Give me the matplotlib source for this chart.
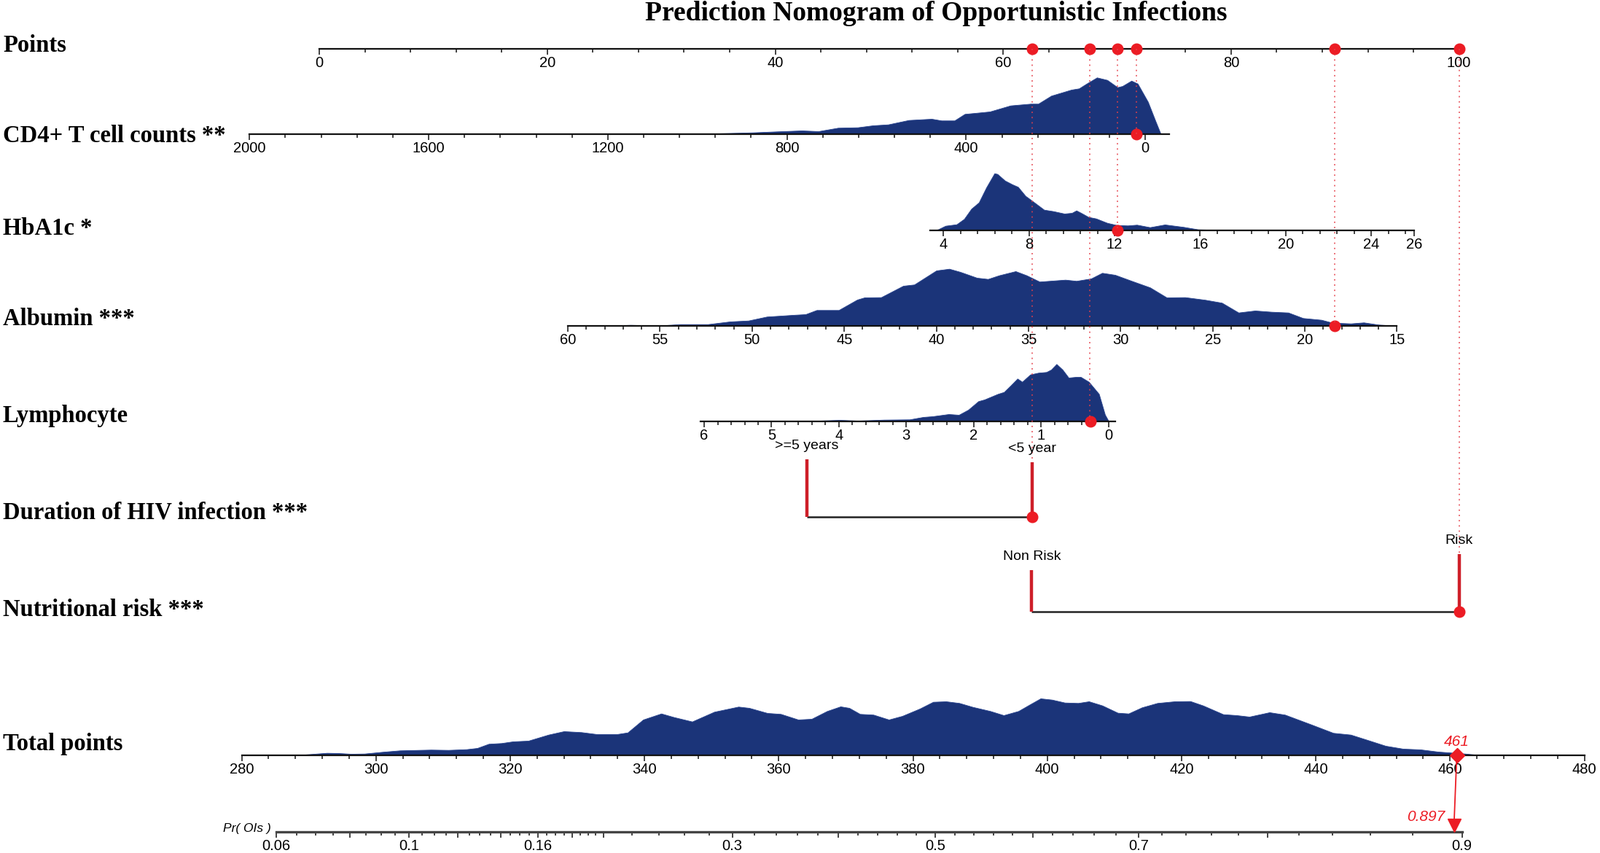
import numpy as np
import matplotlib
matplotlib.use('Agg')
import matplotlib.pyplot as plt
from matplotlib.patches import ConnectionPatch
from matplotlib.ticker import FixedLocator, FixedFormatter, NullFormatter

plt.rcParams['font.family'] = ['Liberation Sans', 'DejaVu Sans']

# ---- data ----
row_names = ['Points', 'CD4+ T cell counts **', 'HbA1c *', 'Albumin ***', 'Lymphocyte',
             'Duration of HIV infection ***', 'Nutritional risk ***', 'Total points']

# (value, points) anchors of each continuous scale
cd4_scale = [(0, 72.47), (2000, -6.13)]
hba1c_scale = [(4, 54.77), (26, 96.05)]
albumin_scale = [(60, 21.81), (15, 94.55)]
lymph_scale = [(6, 33.77), (0, 69.23)]

# density outlines (value, relative height)
cd4_density = [(2000, 0), (1900, 0.4), (1850, 0.5), (1800, 0), (1420, 0), (1300, 0.3), (1200, 0.5),
               (1100, 0.3), (1040, 0.5), (957, 1), (876, 2.3), (821, 3.7), (767, 5), (730, 4),
               (686, 8.7), (642, 9.3), (608, 12), (574, 13.3), (528, 19.3), (477, 21), (455, 18.7),
               (426, 18.7), (403, 27.7), (375, 29.3), (347, 31), (301, 39.3), (256, 41.7), (239, 41.7),
               (210, 52.7), (165, 61), (148, 62.7), (131, 69.3), (108, 77.7), (85, 74.3), (62, 64.3),
               (51, 66), (31, 73.3), (17, 69.3), (-6, 44.3), (-23, 17.7), (-34, 1), (-53, 0)]
hba1c_density = [(3.36, 0), (3.74, 1.3), (4.09, 6.3), (4.61, 8.3), (4.96, 15.7), (5.30, 29.7),
                 (5.65, 38.3), (6.0, 59), (6.38, 78.3), (6.52, 77.3), (6.87, 68.3), (7.22, 63),
                 (7.48, 59.7), (7.83, 47.3), (8.09, 41.7), (8.70, 28.3), (9.13, 26.3), (9.65, 23),
                 (10.0, 24), (10.21, 27.3), (10.43, 24), (10.78, 18.3), (11.13, 16.3), (11.65, 10.3),
                 (12.09, 7.3), (12.61, 6.7), (13.04, 7.7), (13.65, 4.3), (14.35, 8), (14.69, 6.7),
                 (15.22, 4.7), (15.91, 1.3), (16.43, 1), (17.13, 0.3), (17.65, 1), (18.17, 0.3),
                 (19.9, 0), (23.4, 0), (24.8, 0.5), (25.2, 1), (25.6, 0.5), (26, 0)]
albumin_density = [(60, 0), (58.1, 0), (56.6, 1.3), (55.1, 0.3), (53.9, 2.3), (52.4, 2.3), (51.2, 6),
                   (50.2, 7.3), (49.2, 12.7), (48.4, 14), (47.8, 15), (47.1, 16), (46.5, 21.7),
                   (45.3, 21.7), (44.3, 36), (43.9, 39), (43.0, 39.3), (41.8, 55), (41.2, 56.7),
                   (40.0, 76), (39.3, 78.3), (38.7, 74), (37.8, 66), (37.2, 64.3), (36.6, 69.3),
                   (35.7, 75), (35.1, 69.3), (34.4, 60.7), (33.0, 63.3), (32.4, 61.7), (31.6, 65),
                   (31.0, 72.7), (30.3, 70), (29.4, 61.7), (28.4, 52.7), (27.5, 39), (26.5, 39.3),
                   (25.4, 35.7), (24.5, 31.7), (23.6, 18.3), (22.7, 21), (21.8, 19.3), (20.9, 18.3),
                   (20.1, 10.7), (19.1, 8.3), (18.5, 4.3), (17.5, 3.3), (16.8, 4.7), (16.0, 1.7), (15.0, 0)]
lymph_density = [(6.05, 0), (5.85, 0.3), (4.78, 0.3), (4.40, 0.7), (3.99, 2), (3.72, 1), (3.33, 2.3),
                 (2.95, 2.7), (2.75, 6), (2.61, 7), (2.37, 10), (2.22, 9), (2.08, 16), (1.93, 27.7),
                 (1.84, 30), (1.64, 37.7), (1.55, 40.3), (1.45, 49.3), (1.35, 58.7), (1.28, 54.3),
                 (1.16, 64.3), (1.04, 66.7), (0.92, 67.7), (0.85, 71), (0.77, 78.7), (0.68, 71),
                 (0.59, 60), (0.48, 61), (0.41, 61), (0.29, 54.3), (0.14, 37.7), (0.05, 9.3),
                 (0.0, 1), (-0.1, 0)]
total_density = [(280, 0), (287.8, 0), (289.8, 1.3), (292.7, 3.3), (294.4, 3), (296.3, 2), (298.3, 2.3),
                 (301, 4.7), (303.6, 6.7), (308.2, 7.7), (310.8, 7.3), (313.5, 8.3), (315.1, 10),
                 (316.8, 15.7), (318.7, 16.7), (320.4, 19), (322.7, 20), (325.7, 28.3), (328, 33),
                 (330.6, 31.7), (332.9, 29), (335.9, 29), (337.5, 31.3), (339.8, 49), (342.5, 57.3),
                 (344.4, 52.3), (347.1, 46.3), (350.4, 59.7), (354, 66.7), (355.6, 65), (358.3, 58),
                 (360.3, 56.7), (362.9, 49), (364.9, 50), (367.2, 60.7), (369.2, 67), (370.5, 65),
                 (372.1, 56.7), (374.1, 55.7), (376.4, 49), (378.4, 54), (381, 64), (383, 73.3),
                 (384.9, 74), (386.9, 71.7), (388.9, 66.3), (391.5, 60.7), (393.5, 55), (395.7, 60.7),
                 (397.4, 69.7), (399, 78), (400.7, 76.3), (402.6, 72.3), (404.6, 71.7), (406.2, 74),
                 (408.2, 68.3), (410.5, 58.3), (412.1, 57.3), (414.1, 65.7), (416.4, 71.7), (419, 74),
                 (421.3, 74.3), (423.2, 68.3), (426.2, 56.3), (428.2, 55), (430.1, 53), (433.1, 59),
                 (435.4, 55.7), (439.3, 42.3), (442.6, 30.7), (445.2, 28.3), (447.8, 20.7), (450.4, 13),
                 (453, 9), (455.6, 8), (458.2, 5), (462.2, 2.3), (464.8, 0), (480, 0)]

# categorical predictors: (level, points, relative frequency)
duration_levels = [('>=5 years', 42.76, 79), ('<5 year', 62.56, 75)]
nutrition_levels = [('Non Risk', 62.50, 57), ('Risk', 100.0, 79)]

# the patient being scored
obs_values = [19.4, 12.13, 18.37, 0.27, '<5 year', 'Risk']
obs_points = [71.72, 70.03, 89.10, 67.62, 62.56, 100.0]
total_score = 461
prob = 0.897

pr_labels = [0.06, 0.1, 0.16, 0.3, 0.5, 0.7, 0.9]
pr_mid = [0.08, 0.12, 0.14, 0.18, 0.2, 0.4, 0.6, 0.8]

# ---- layout ----
W, H = 2195, 1170
P0, PK = 438.1, 15.635          # pixel of 0 points, pixels per point
row_y = [67, 184, 316, 447, 578, 709, 839, 1036]
label_base = [71, 195, 322, 446, 579, 712, 845, 1029]
pr_y = 1141

navy = '#1B3479'
red = '#EC1C24'
dark_red = '#CE1F29'
tick_fs = 14.5

fig = plt.figure(figsize=(W / 100, H / 100), dpi=100)


def pts_px(p):
    return P0 + PK * p


def make_axis(y, x_left, x_right, lo, hi, height=82):
    ax = fig.add_axes([x_left / W, 1 - y / H, (x_right - x_left) / W, height / H])
    ax.set_xlim(lo, hi)
    ax.set_ylim(0, height)
    ax.patch.set_visible(False)
    for s in ['top', 'left', 'right']:
        ax.spines[s].set_visible(False)
    ax.spines['bottom'].set_linewidth(1.6)
    ax.spines['bottom'].set_color('#111111')
    ax.yaxis.set_visible(False)
    ax.tick_params(axis='x', which='major', length=6, width=1.1, pad=1, labelsize=tick_fs, color='#111111')
    ax.tick_params(axis='x', which='minor', length=3.8, width=1.1, color='#111111')
    return ax


def scale_axis(y, scale, lo, hi):
    (v1, p1), (v2, p2) = scale
    slope = (p2 - p1) / (v2 - v1)
    x_lo = pts_px(p1 + slope * (lo - v1))
    x_hi = pts_px(p1 + slope * (hi - v1))
    return make_axis(y, x_lo, x_hi, lo, hi)


def set_ticks(ax, major, minor, labels=None):
    ax.xaxis.set_major_locator(FixedLocator(major))
    ax.xaxis.set_minor_locator(FixedLocator(minor))
    ax.xaxis.set_major_formatter(FixedFormatter(labels if labels else [f'{m:g}' for m in major]))


def density(ax, data):
    x, h = np.array(data).T
    ax.fill_between(x, 0, h, color=navy, lw=0.6, edgecolor='#2A4590')


# Points scale
ax_pts = make_axis(row_y[0], pts_px(0), pts_px(100), 0, 100)
set_ticks(ax_pts, np.arange(0, 101, 20), np.arange(0, 101, 4))
ax_pts.plot(obs_points, np.zeros(len(obs_points)), 'o', color=red, ms=10.5, clip_on=False, zorder=5)

# continuous predictors
ax_cd4 = scale_axis(row_y[1], cd4_scale, 2000, -53)
set_ticks(ax_cd4, np.arange(0, 2001, 400), np.arange(0, 2001, 80))
density(ax_cd4, cd4_density)

ax_hb = scale_axis(row_y[2], hba1c_scale, 3.36, 26)
set_ticks(ax_hb, [4, 8, 12, 16, 20, 24, 26], np.arange(4, 25.7, 0.8))
density(ax_hb, hba1c_density)

ax_alb = scale_axis(row_y[3], albumin_scale, 60, 15)
set_ticks(ax_alb, np.arange(15, 61, 5), np.arange(15, 61, 1))
density(ax_alb, albumin_density)

ax_lym = scale_axis(row_y[4], lymph_scale, 6.05, -0.1)
set_ticks(ax_lym, np.arange(0, 7, 1), np.arange(0, 6.01, 0.2))
density(ax_lym, lymph_density)

for ax, v in zip([ax_cd4, ax_hb, ax_alb, ax_lym], obs_values[:4]):
    ax.plot(v, 0, 'o', color=red, ms=10.5, clip_on=False, zorder=5)

# Total points
ax_tot = make_axis(row_y[7], 331.5, 2173.5, 280, 480)
set_ticks(ax_tot, np.arange(280, 481, 20), np.arange(280, 481, 4))
density(ax_tot, total_density)
ax_tot.plot(total_score, 0, 'D', color=red, ms=10, clip_on=False, zorder=6)
ax_tot.text(total_score, 18.5, f'{total_score}', color=red, style='italic', fontsize=15,
            ha='center', va='center')

# probability scale
ax_pr = make_axis(pr_y, 378.8, 2005.5, 0.06, 0.9, height=40)
ax_pr.set_xscale('logit')
ax_pr.set_xlim(0.06, 0.9)
ax_pr.spines['bottom'].set_linewidth(2.4)
ax_pr.spines['bottom'].set_color('#444444')
pr_minor = [p for p in np.round(np.concatenate([np.arange(0.065, 0.2, 0.005), np.arange(0.22, 0.9, 0.02)]), 3)
            if not np.isclose(p, pr_labels + pr_mid).any()]
pr_major = sorted(pr_labels + pr_mid)
set_ticks(ax_pr, pr_major, pr_minor, [f'{p:g}' if p in pr_labels else '' for p in pr_major])
ax_pr.xaxis.set_minor_formatter(NullFormatter())
ax_pr.annotate('Pr( OIs )', (0.06, 5), xytext=(-5, 0), textcoords='offset points',
               ha='right', va='center', style='italic', fontsize=12.5, annotation_clip=False)
ax_pr.plot(prob, 9, 'v', color=red, ms=13, clip_on=False, zorder=6)
ax_pr.annotate(f'{prob}', (prob, 20), xytext=(-9, 0), textcoords='offset points', color=red,
               style='italic', fontsize=15, ha='right', va='center', annotation_clip=False)
con = ConnectionPatch(xyA=(total_score, 0), coordsA=ax_tot.transData, xyB=(prob, 9),
                      coordsB=ax_pr.transData, color=red, lw=1.3, zorder=4)
fig.add_artist(con)

# overlay in points units: dotted guides and categorical predictors
ov = fig.add_axes([0, 0, 1, 1], zorder=10)
ov.set_xlim(-P0 / PK, (W - P0) / PK)
ov.set_ylim(H, 0)
ov.set_axis_off()

ov.vlines(obs_points, row_y[0], row_y[1:7], colors='#E5404A', lw=1.1, linestyles=(0, (1.2, 3.5)), zorder=1)

for y, levels, chosen in [(row_y[5], duration_levels, obs_values[4]), (row_y[6], nutrition_levels, obs_values[5])]:
    pos = [p for _, p, _ in levels]
    ov.hlines(y, min(pos), max(pos), color='#222222', lw=1.8, zorder=2)
    for name, p, f in levels:
        ov.vlines(p, y, y - f, color=dark_red, lw=3.2, zorder=3)
        ov.text(p, y - f - 19, name, ha='center', va='center', fontsize=14, zorder=3)
        if name == chosen:
            ov.plot(p, y, 'o', color=red, ms=10.5, zorder=5)

# text
fig.text(1284 / W, 1 - 28 / H, 'Prediction Nomogram of Opportunistic Infections', ha='center', va='baseline',
         family='Liberation Serif', weight='bold', fontsize=27)
for name, yb in zip(row_names, label_base):
    fig.text(4 / W, 1 - yb / H, name, ha='left', va='baseline', family='Liberation Serif',
             weight='bold', fontsize=23.5)

fig.savefig('out.png', dpi=100)
